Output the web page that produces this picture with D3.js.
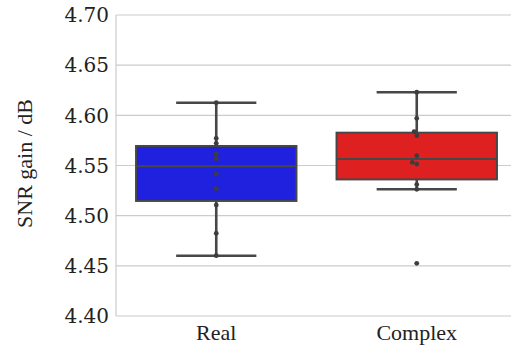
<!DOCTYPE html>
<html>
<head>
<meta charset="utf-8">
<script src="https://cdn.jsdelivr.net/npm/d3@7"></script>
<style>
  body { margin: 0; background: #fff; }
  svg { display: block; }
</style>
</head>
<body>
<div id="chart"></div>
<script>
// values
const categories = ['Real', 'Complex'];
const realValues = [4.6126, 4.5771, 4.5721, 4.5615, 4.5568, 4.5415, 4.5269, 4.5106, 4.4824, 4.4601];
const complexValues = [4.6230, 4.5970, 4.5837, 4.5797, 4.5598, 4.5532, 4.5515, 4.5310, 4.5263, 4.4525];
const yTicks = [4.40, 4.45, 4.50, 4.55, 4.60, 4.65, 4.70];
const yLabel = 'SNR gain / dB';

const W = 511, H = 345;
const margin = {top: 15, right: -6, bottom: 29, left: 116};
const fills = {Real: '#2020df', Complex: '#df2020'};
const LINE = '#474747';
const DOT = '#3d3d3d';
const TICK_FONT = 'DejaVu Serif';
const LABEL_FONT = 'Liberation Serif';

const groups = [
    {name: 'Real', values: realValues},
    {name: 'Complex', values: complexValues},
];

const svg = d3.select('#chart')
  .append('svg')
    .attr('width', W)
    .attr('height', H);

const x = d3.scaleBand()
  .domain(categories)
  .range([margin.left, W - margin.right])
  .padding(0);

const y = d3.scaleLinear()
  .domain([4.40, 4.70])
  .range([H - margin.bottom, margin.top]);

// grid
svg.append('g')
  .selectAll('line')
  .data(yTicks)
  .join('line')
    .attr('x1', margin.left)
    .attr('x2', W - margin.right)
    .attr('y1', d => y(d))
    .attr('y2', d => y(d))
    .attr('stroke', '#cccccc')
    .attr('stroke-width', 1.2);

// left spine
svg.append('line')
  .attr('x1', margin.left).attr('x2', margin.left)
  .attr('y1', y(4.70)).attr('y2', y(4.40))
  .attr('stroke', '#cccccc').attr('stroke-width', 1.2);

// tick labels (plain text so the font sticks)
svg.append('g')
  .selectAll('text')
  .data(yTicks)
  .join('text')
    .attr('x', margin.left - 7)
    .attr('y', d => y(d))
    .attr('dy', '0.36em')
    .attr('text-anchor', 'end')
    .style('font-family', TICK_FONT)
    .style('font-size', '20px')
    .attr('fill', '#222')
    .text(d3.format('.2f'));

svg.append('g')
  .selectAll('text')
  .data(categories)
  .join('text')
    .attr('x', d => x(d) + x.bandwidth() / 2)
    .attr('y', y(4.40) + 24)
    .attr('text-anchor', 'middle')
    .style('font-family', LABEL_FONT)
    .style('font-size', '22px')
    .attr('fill', '#222')
    .text(d => d);

svg.append('text')
  .attr('transform', `translate(32,${(y(4.40) + y(4.70)) / 2 - 2}) rotate(-90)`)
  .attr('text-anchor', 'middle')
  .style('font-family', LABEL_FONT)
  .style('font-size', '22px')
  .attr('fill', '#222')
  .text(yLabel);

// box stats like seaborn / matplotlib (1.5 IQR whiskers)
function stats(values) {
    const s = values.slice().sort(d3.ascending);
    const q1 = d3.quantile(s, 0.25);
    const med = d3.quantile(s, 0.5);
    const q3 = d3.quantile(s, 0.75);
    const iqr = q3 - q1;
    const lo = d3.min(s.filter(v => v >= q1 - 1.5 * iqr));
    const hi = d3.max(s.filter(v => v <= q3 + 1.5 * iqr));
    return {q1, med, q3, lo, hi};
}

const bw = x.bandwidth() * 0.8;
const lw = 2.6;

groups.forEach(g => {
    const st = stats(g.values);
    const cx = x(g.name) + x.bandwidth() / 2;
    const box = svg.append('g');

    box.append('line')
      .attr('x1', cx).attr('x2', cx)
      .attr('y1', y(st.hi)).attr('y2', y(st.q3))
      .attr('stroke', LINE).attr('stroke-width', lw);
    box.append('line')
      .attr('x1', cx).attr('x2', cx)
      .attr('y1', y(st.q1)).attr('y2', y(st.lo))
      .attr('stroke', LINE).attr('stroke-width', lw);
    [st.hi, st.lo].forEach(v => {
        box.append('line')
          .attr('x1', cx - bw / 4).attr('x2', cx + bw / 4)
          .attr('y1', y(v)).attr('y2', y(v))
          .attr('stroke', LINE).attr('stroke-width', lw);
    });
    box.append('rect')
      .attr('x', cx - bw / 2)
      .attr('y', y(st.q3))
      .attr('width', bw)
      .attr('height', y(st.q1) - y(st.q3))
      .attr('fill', fills[g.name])
      .attr('stroke', LINE)
      .attr('stroke-width', 2);
    box.append('line')
      .attr('x1', cx - bw / 2).attr('x2', cx + bw / 2)
      .attr('y1', y(st.med)).attr('y2', y(st.med))
      .attr('stroke', LINE).attr('stroke-width', 2);

    // simple swarm: ascending, dodge left when overlapping
    const r = 2.4;
    const placed = [];
    g.values.slice().sort(d3.ascending).forEach(v => {
        const py = y(v);
        let dx = 0;
        placed.forEach(p => {
            const dy = Math.abs(p.y - py);
            if (p.dx === 0 && dy < 2 * r - 0.3)
                dx = -Math.sqrt(4 * r * r - dy * dy);
        });
        placed.push({y: py, dx});
    });
    box.selectAll('circle')
      .data(placed)
      .join('circle')
        .attr('cx', d => cx + d.dx)
        .attr('cy', d => d.y)
        .attr('r', r)
        .attr('fill', DOT);
});
</script>
</body>
</html>
